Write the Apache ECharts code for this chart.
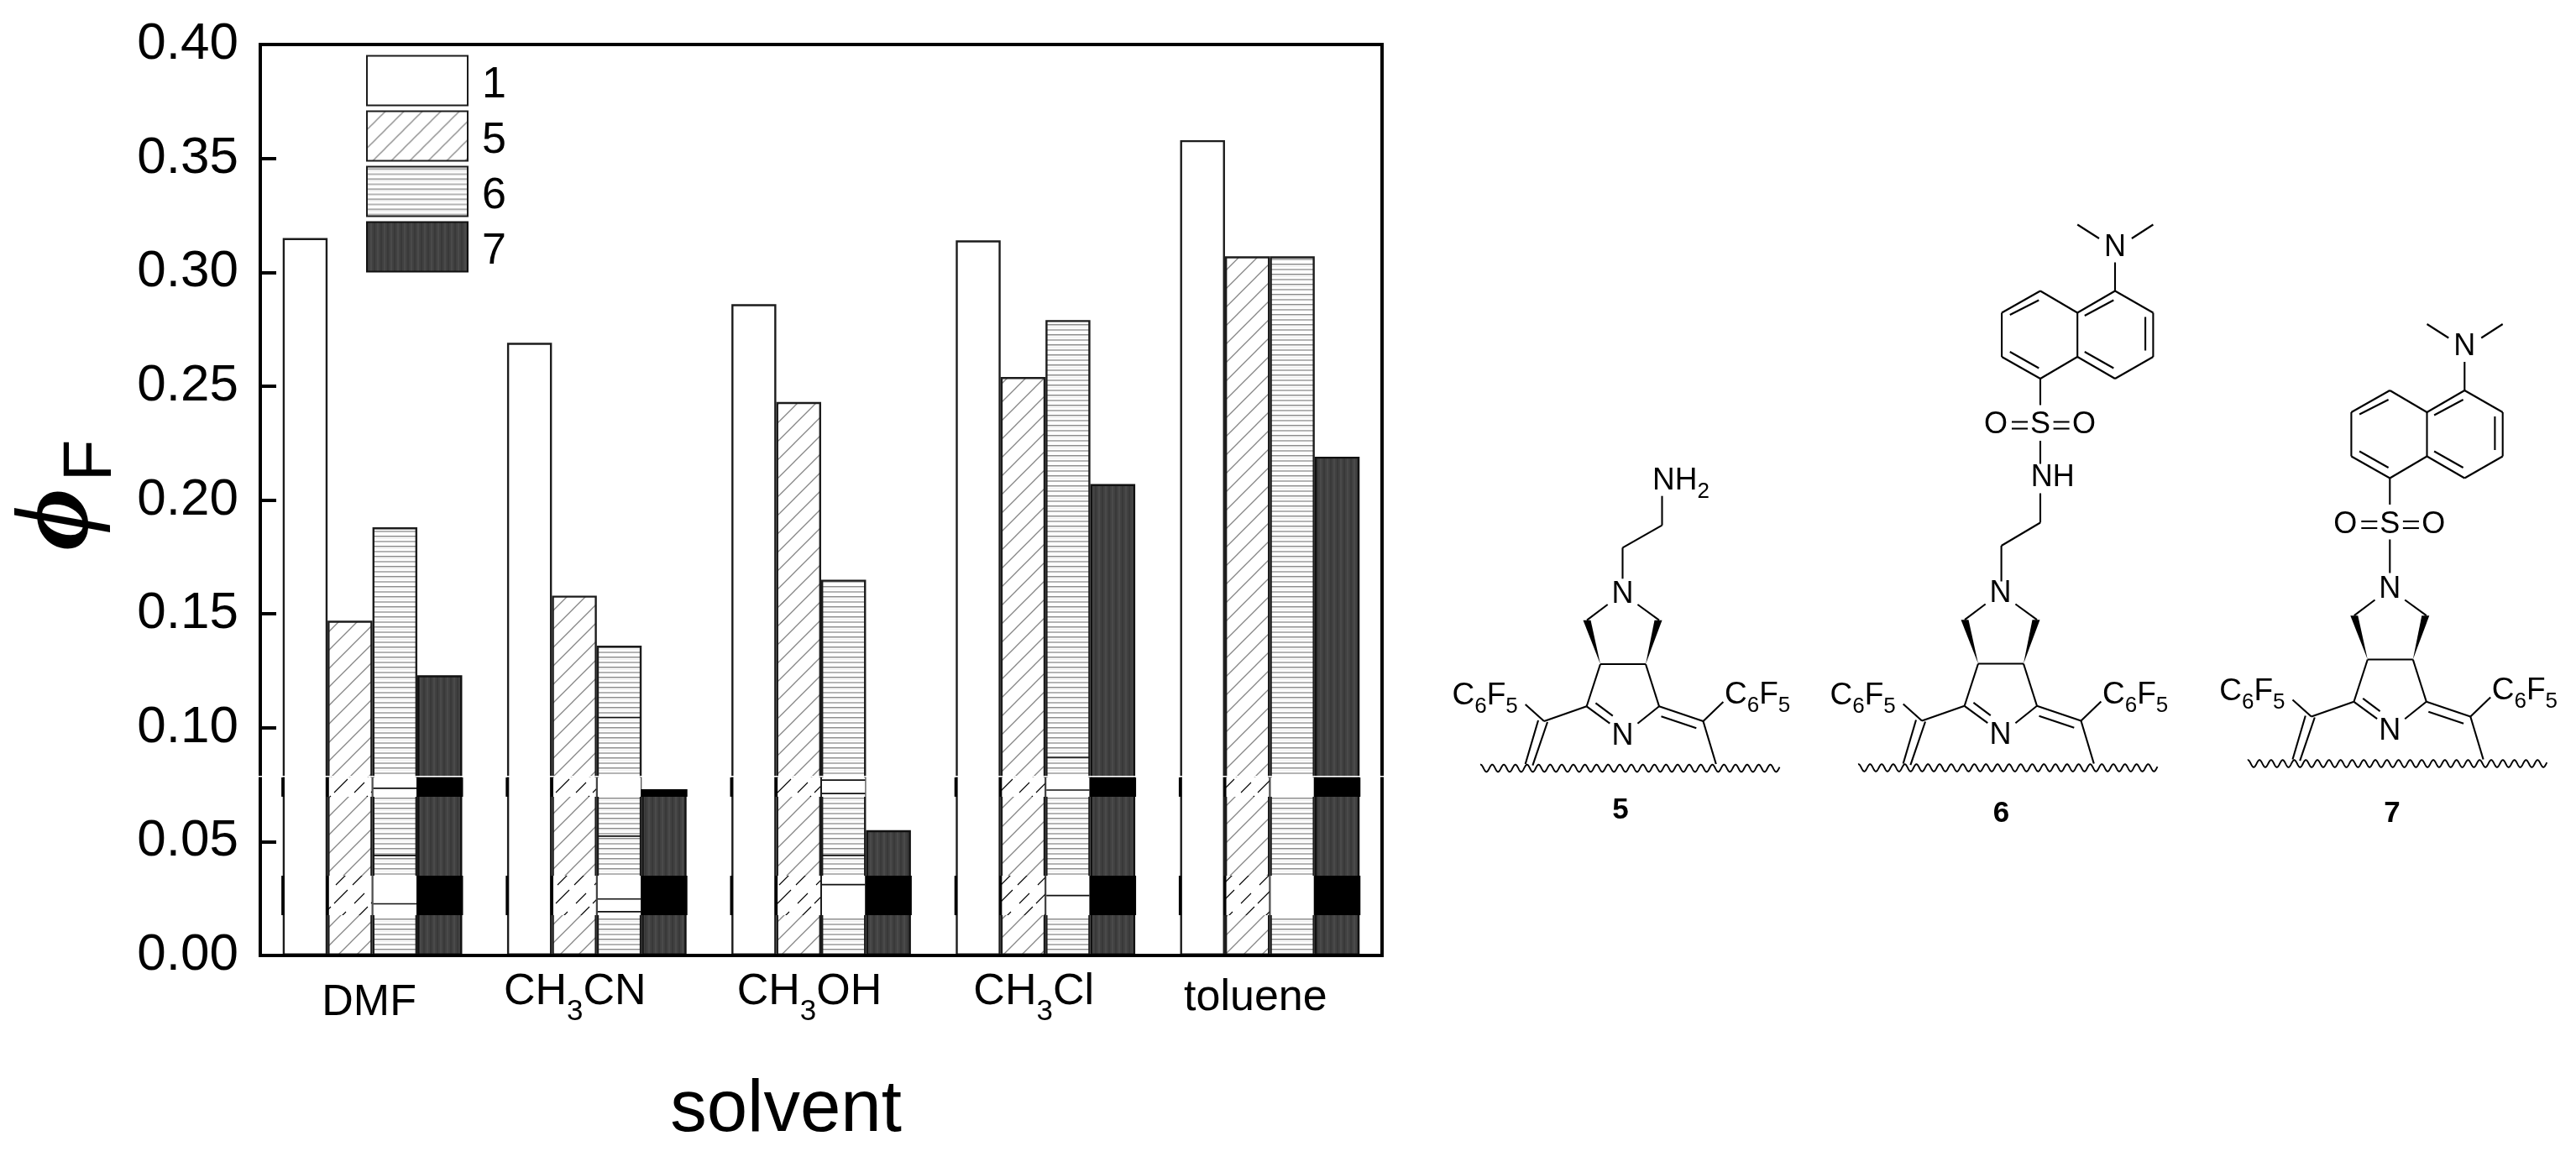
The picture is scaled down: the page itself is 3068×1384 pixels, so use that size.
<!DOCTYPE html>
<html><head><meta charset="utf-8">
<style>html,body{margin:0;padding:0;background:#fff}#c{width:3068px;height:1384px}</style>
<script src="https://cdn.jsdelivr.net/npm/echarts@6/dist/echarts.min.js"></script>
</head><body><div id="c"></div>
<script>
const solvents = ['DMF','CH3CN','CH3OH','CH3Cl','toluene'];
const seriesNames = ['1','5','6','7'];
const compound1 = [0.315,0.269,0.286,0.314,0.358];
const compound5 = [0.147,0.158,0.243,0.254,0.307];
const compound6 = [0.188,0.136,0.165,0.279,0.307];
const compound7 = [0.123,0.073,0.055,0.207,0.219];
const yTicks = {min:0,max:0.40,interval:0.05};
// scan artefacts of the source picture, in axis units
const contrastBands = [[0.0177,0.035],[0.0697,0.0782]];
const seamValue = 0.0786;
const darkRules6 = [[0.0734,0.0439,0.0227],[0.1045,0.0524,0.0248,0.0192],[0.077,0.0711,0.0439,0.0311],[0.087,0.0726,0.0263],[]];
// leftward shift of each category label in the source, px
const labelShift = [4,26,14,14,17];
const labelDrop = [29,0,0,0,23];

const FONT='"Liberation Sans"';
function tile(w,h,draw){const c=document.createElement('canvas');c.width=w;c.height=h;const g=c.getContext('2d');g.fillStyle='#fff';g.fillRect(0,0,w,h);draw(g,w,h);return {image:c,repeat:'repeat'};}
const hatch=tile(22,22,(g,w,h)=>{g.strokeStyle='#858585';g.lineWidth=1.3;g.beginPath();g.moveTo(-2,h+2);g.lineTo(w+2,-2);g.moveTo(-2,2);g.lineTo(2,-2);g.moveTo(w-2,h+2);g.lineTo(w+2,h-2);g.stroke();});
const hatchBand=tile(44,44,(g,w,h)=>{g.strokeStyle='#000';g.lineWidth=1.1;g.beginPath();g.moveTo(2,20);g.lineTo(18,4);g.moveTo(24,42);g.lineTo(42,24);g.moveTo(26,20);g.lineTo(38,8);g.moveTo(4,42);g.lineTo(16,30);g.stroke();});
const rules=tile(4,12,(g,w)=>{g.fillStyle='#8e8e8e';g.fillRect(0,2,w,1.5);g.fillStyle='#b4b4b4';g.fillRect(0,8,w,2);g.fillStyle='#eee';g.fillRect(0,5,w,1);});
const dark=tile(8,4,(g,w,h)=>{g.fillStyle='#414141';g.fillRect(0,0,w,h);g.fillStyle='#393939';g.fillRect(0,0,2,h);g.fillStyle='#4a4a4a';g.fillRect(4,0,2,h);});
const fills=['#fff',hatch,rules,dark];
const values=[compound1,compound5,compound6,compound7];

// ---------- artefact overlay rows
const bandRows=[];
solvents.forEach((_,c)=>{
  contrastBands.forEach(b=>{
    for(let s=0;s<4;s++){const top=Math.min(b[1],values[s][c]);if(top>b[0])bandRows.push([c,s,b[0],top]);}
  });
});
const ruleRows=[];
darkRules6.forEach((list,c)=>list.forEach(v=>ruleRows.push([c,v])));
const BARFRAC=0.2;
function renderBand(p,api){
  const c=api.value(0),s=api.value(1),bw=api.size([1,0])[0]*BARFRAC;
  const x0=api.coord([c,0])[0]+(s-2)*bw,top=api.coord([c,api.value(3)])[1],bot=api.coord([c,api.value(2)])[1];
  const h=bot-top,kids=[];
  const r=(x,w,fill)=>({type:'rect',shape:{x,y:top,width:w,height:h},style:{fill}});
  if(s===3)kids.push(r(x0-1,bw+2,'#000'));
  if(s===2)kids.push(r(x0+1,bw-2,'#fff'));
  if(s===1)kids.push(r(x0+1,bw-2,hatchBand));
  if(s<2)kids.push(r(x0-1.6,3.2,'#000'));
  return {type:'group',children:kids};
}
function renderRule(p,api){
  const c=api.value(0),bw=api.size([1,0])[0]*BARFRAC,x0=api.coord([c,0])[0],y=api.coord([c,api.value(1)])[1];
  return {type:'line',shape:{x1:x0+1,y1:y,x2:x0+bw-1,y2:y},style:{stroke:'#111',lineWidth:1.6}};
}
function renderSeam(p,api){
  const cs=p.coordSys,y=api.coord([0,api.value(0)])[1];
  return {type:'line',shape:{x1:cs.x-3,y1:y,x2:cs.x+cs.width+3,y2:y},style:{stroke:'#fff',lineWidth:1.6}};
}

// ---------- structures (page decoration, not data)
const INK='#000',els=[];
function L(x1,y1,x2,y2,w){els.push({type:'line',silent:true,z:30,shape:{x1,y1,x2,y2},style:{stroke:INK,lineWidth:w||2.1}});}
function T(x,y,text,o){o=o||{};els.push({type:'text',silent:true,z:30,style:Object.assign({x,y,text,fill:INK,fontFamily:FONT,fontSize:36,align:'center',verticalAlign:'middle'},o)});}
const SUBRICH={s:{fontFamily:FONT,fontSize:26,fill:INK,padding:[26,0,0,0]},m:{fontFamily:FONT,fontSize:37,fill:INK}};
function wedge(ax,ay,bx,by){els.push({type:'polygon',silent:true,z:30,shape:{points:[[ax,ay],[bx-4.5,by],[bx+4.5,by]]},style:{fill:INK}});}
function core(nx,ny){
  const l=(a,b,c,d)=>L(nx+a,ny+b,nx+c,ny+d);
  T(nx,ny,'N');T(nx,ny+168.7,'N');
  l(-17.8,12,-42.5,30.7);l(17.9,12,43.5,30.7);
  wedge(nx-26.5,ny+83,nx-42.5,ny+30.7);wedge(nx+27.5,ny+83,nx+42.5,ny+30.7);
  l(-26.5,83,27.5,83);l(-26.5,83,-42.8,133.3);l(27.5,83,43.5,133.3);
  l(-42.8,133.3,-15.2,153.7);l(-32.1,129.3,-11.7,144.7);
  l(17.9,153.7,43.5,133.3);
  l(43.5,133.3,96,151);l(46,145.3,87.8,159.3);
  l(96,151,119.9,128);l(96,151,111.3,202);
  l(-42.8,133.3,-93.5,151);l(-93.5,151,-115.8,131);
  l(-89.5,152,-107.1,203.7);l(-100.5,150,-115.8,202);
  const pts=[];for(let x=-169.5;x<=187;x+=0.5)pts.push([nx+x,ny+207+4.3*Math.sin(x*2*Math.PI/13.8)]);
  els.push({type:'polyline',silent:true,z:30,shape:{points:pts},style:{stroke:INK,lineWidth:1.9,fill:null,lineJoin:'round'}});
  const lab='{m|C}{s|6}{m|F}{s|5}';
  T(nx-203,ny+121,lab,{align:'left',rich:SUBRICH});
  T(nx+121.5,ny+120,lab,{align:'left',rich:SUBRICH});
}
function dansyl(sx,sy){
  const l=(a,b,c,d)=>L(sx+a,sy+b,sx+c,sy+d);
  const P={a:[0,-55.5],b:[-45.9,-81.5],c:[-45.9,-134],d:[0,-160],e:[44.2,-134],f:[44.2,-81.5],g:[89,-55.5],h:[134.4,-81.5],i:[134.4,-134],j:[89,-160]};
  ['ab','bc','cd','de','ef','fa','fg','gh','hi','ij','je'].forEach(k=>l(P[k[0]][0],P[k[0]][1],P[k[1]][0],P[k[1]][1]));
  l(-36.2,-87.5,-1.7,-68);l(-36.2,-131.5,-1.7,-149);l(52.8,-130.5,87.3,-149);l(52.8,-87.5,87.3,-68);l(125.1,-89,125.1,-129);
  l(89,-160,89,-194);T(sx+89,sy-211.5,'N');
  l(70,-222.5,44.2,-239);l(108.9,-222.5,134.4,-239);
  l(0,-24,0,-55.5);
  T(sx,sy,'S');T(sx-53,sy,'O');T(sx+52,sy,'O');
  l(-34,-4,-15,-4);l(-34,4,-15,4);l(15.6,-4,34.6,-4);l(15.6,4,34.6,4);
}
function id(x,y,t){T(x,y,t,{fontSize:35,fontWeight:'bold'});}
// compound 5
core(1932.5,708);
L(1979.5,590.7,1979.5,625.7);L(1979.5,625.7,1932.5,652.3);L(1932.5,652.3,1932.5,689.3);
T(1968,573,'{m|NH}{s|2}',{align:'left',rich:SUBRICH});
id(1930,965,'5');
// compound 6
core(2382.5,707.5);
dansyl(2430,506.5);
L(2383.6,692.5,2383.6,650);L(2383.6,650,2430,622.5);L(2430,622.5,2430,587.5);
L(2430,525,2430,552.5);
T(2418.7,569,'NH',{align:'left'});
id(2383.6,969,'6');
// compound 7
core(2846.3,702.5);
dansyl(2846.3,625);
L(2846.3,642.5,2846.3,682.5);
id(2849,969,'7');

const labelRich={u:{fontFamily:FONT,fontSize:35,color:'#000',padding:[48,0,0,0]},
                 c:{fontFamily:FONT,fontSize:52,color:'#000'}};
labelShift.forEach((d,i)=>{
  labelRich['e'+i]={fontFamily:FONT,fontSize:52,color:'#000',padding:[0,2*d,0,0]};
  labelRich['d'+i]={fontFamily:FONT,fontSize:52,color:'#000',padding:[labelDrop[i],2*d,0,0]};
});
function catLabel(v,i){
  const k=v.indexOf('3');
  if(k<0)return '{d'+i+'|'+v+'}';
  return '{c|'+v.slice(0,k)+'}{u|3}{e'+i+'|'+v.slice(k+1)+'}';
}
const chart=echarts.init(document.getElementById('c'),null,{renderer:'canvas',width:3068,height:1384,devicePixelRatio:1});
const barSeries=seriesNames.map((n,i)=>({
  name:n,type:'bar',data:values[i],barWidth:(BARFRAC*100)+'%',barGap:'0%',z:2,
  itemStyle:{color:fills[i],borderColor:i===3?'#111':'#1c1c1c',borderWidth:2.4},
  emphasis:{disabled:true},silent:true
}));
chart.setOption({
  animation:false,backgroundColor:'#fff',
  grid:{left:310,top:53,width:1336,height:1085,outerBoundsMode:'none',show:true,borderColor:'#000',borderWidth:4,backgroundColor:'transparent'},
  legend:{data:seriesNames,orient:'vertical',left:436,top:64,itemWidth:120,itemHeight:59,itemGap:2,padding:0,icon:'rect',selectedMode:false,
    formatter:'{a|{name}}',
    textStyle:{fontFamily:FONT,fontSize:52,color:'#000',rich:{a:{fontFamily:FONT,fontSize:52,color:'#000',lineHeight:44,padding:[12,0,0,12]}}}},
  xAxis:{type:'category',data:solvents,z:10,
    axisLine:{lineStyle:{color:'#000',width:4}},axisTick:{show:false},splitLine:{show:false},
    axisLabel:{margin:2,interval:0,color:'#000',fontFamily:FONT,fontSize:52,formatter:catLabel,rich:labelRich},
    name:'solvent',nameLocation:'middle',nameGap:142,
    nameTextStyle:{fontFamily:FONT,fontSize:87,color:'#000',padding:[0,84,0,0]}},
  yAxis:{type:'value',min:yTicks.min,max:yTicks.max,interval:yTicks.interval,z:10,
    axisLine:{show:true,lineStyle:{color:'#000',width:4}},
    axisTick:{show:true,inside:true,length:19,lineStyle:{color:'#000',width:4}},
    splitLine:{show:false},
    axisLabel:{margin:26,color:'#000',fontFamily:FONT,fontSize:62,formatter:v=>v.toFixed(2)},
    name:'{phi|\u03D5}{f|F}',nameLocation:'middle',nameGap:160,
    nameTextStyle:{rich:{phi:{fontFamily:'"Liberation Serif"',fontStyle:'italic',fontWeight:'bold',fontSize:128,color:'#000',padding:[0,0,0,12]},
      f:{fontFamily:FONT,fontSize:82,color:'#000',padding:[76,0,0,8]}}}},
  graphic:{elements:els},
  series:barSeries.concat([
    {type:'custom',silent:true,z:5,renderItem:renderBand,data:bandRows,encode:{x:0,y:2},clip:false},
    {type:'custom',silent:true,z:6,renderItem:renderRule,data:ruleRows,encode:{x:0,y:1}},
    {type:'custom',silent:true,z:20,renderItem:renderSeam,data:[[seamValue]],encode:{y:0}}
  ])
});
</script></body></html>
